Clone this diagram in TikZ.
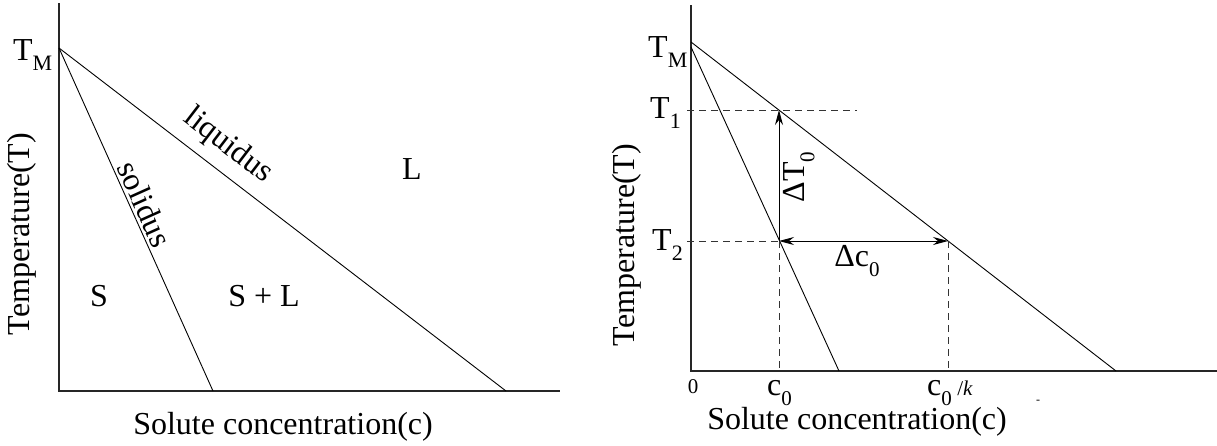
\documentclass[tikz,border=0pt]{standalone}
\usepackage{fontspec}
\setmainfont{Liberation Serif}
\usetikzlibrary{arrows.meta}
\newcommand\lowsub[2][22]{\raisebox{-10pt}{\fontsize{#1}{#1}\selectfont #2}}
\tikzset{
  lbl/.style={inner sep=0pt, font=\fontsize{32}{36}\selectfont},
  smalllbl/.style={inner sep=0pt, font=\fontsize{21}{24}\selectfont},
  axis/.style={line width=1.3pt, draw=black!85},
  curve/.style={line width=0.9pt},
  guide/.style={line width=0.9pt, dash pattern=on 7pt off 5pt, draw=black!80},
  arr/.style={line width=0.9pt, -{Stealth[length=15pt,width=8pt,inset=5pt]}},
  darr/.style={line width=0.9pt, {Stealth[length=15pt,width=8pt,inset=5pt]}-{Stealth[length=15pt,width=8pt,inset=5pt]}}
}
\begin{document}
\begin{tikzpicture}[x=1pt,y=-1pt]
\useasboundingbox (0,0) rectangle (1217,445);
% ---------- left panel ----------
\coordinate (Ltop) at (59,3);
\coordinate (Lo) at (59,391);
\coordinate (Lxend) at (560,391);
\coordinate (LTM) at (59,48);
\coordinate (Lliq) at (506,391);
\coordinate (Lsol) at (213,391);
\draw[axis] (Ltop) -- (Lo) -- (Lxend);
\draw[curve] (LTM) -- (Lliq);
\draw[curve] (LTM) -- (Lsol);
\node[lbl, anchor=base west] (ltm) at (13,60) {T\lowsub{M}};
\node[lbl, rotate=90] (lylab) at (22,234) {Temperature(T)};
\node[lbl] (lxlab) at (283,427) {Solute concentration(c)};
\node[lbl, rotate=-37.5] (liq) at (228,146) {liquidus};
\node[lbl, rotate=-65.8] (sol) at (145,204) {solidus};
\node[lbl] (regL) at (412,169) {L};
\node[lbl] (regS) at (99,296) {S};
\node[lbl] (regSL) at (264,296) {S + L};
% ---------- right panel ----------
\coordinate (Rtop) at (691,5);
\coordinate (Ro) at (691,371);
\coordinate (Rxend) at (1217,371);
\coordinate (RTMl) at (691,42);
\coordinate (RTMs) at (691,47);
\coordinate (Rliq) at (1116,371);
\coordinate (Rsol) at (839,371);
\coordinate (T1s) at (687,110);
\coordinate (T1e) at (857,110);
\coordinate (T2s) at (687,241);
\coordinate (P1) at (779,110);
\coordinate (P2) at (779,241);
\coordinate (P3) at (948,241);
\coordinate (B1) at (779,371);
\coordinate (B2) at (948,371);
\draw[axis] (Rtop) -- (Ro) -- (Rxend);
\draw[curve] (RTMl) -- (Rliq);
\draw[curve] (RTMs) -- (Rsol);
\draw[guide] (T1s) -- (T1e);
\draw[guide] (T2s) -- (P2);
\draw[guide] (P2) -- (B1);
\draw[guide] (P3) -- (B2);
\draw[arr] (P2) -- (P1);
\draw[darr] (P2) -- (P3);
\node[lbl, anchor=base west] (rtm) at (648,57) {T\lowsub{M}};
\node[lbl, anchor=base west] (t1) at (650,118) {T\lowsub{1}};
\node[lbl, anchor=base west] (t2) at (652,250) {T\lowsub{2}};
\node[lbl, rotate=90] (rylab) at (627,245) {Temperature(T)};
\node[lbl] (rxlab) at (857,422) {Solute concentration(c)};
\node[smalllbl] (zero) at (693,387) {0};
\node[lbl, anchor=base west] (c0) at (767,395) {c\lowsub[21]{0}};
\node[lbl, anchor=base west] (c0k) at (927,395) {c\lowsub[21]{0}\,{\fontsize{21}{21}\selectfont/\textit{k}}};
\node[lbl, rotate=90] (dT) at (799,177) {ΔT\lowsub[21]{0}};
\node[lbl] (dc) at (857,261) {Δc\lowsub[21]{0}};
\node[inner sep=0pt, font=\fontsize{12}{12}\selectfont] (dash) at (1038,402) {-};
\end{tikzpicture}
\end{document}
